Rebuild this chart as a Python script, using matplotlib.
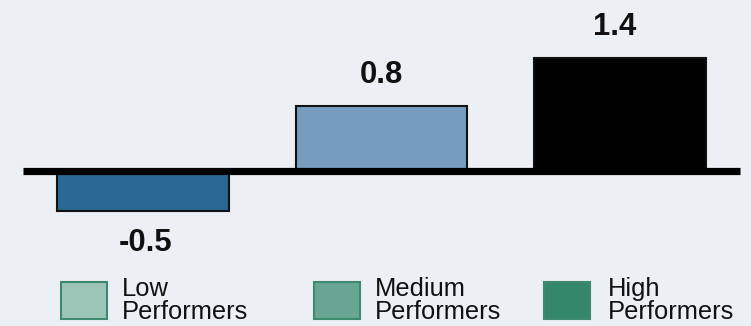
import matplotlib.pyplot as plt
from matplotlib.patches import Rectangle

# Values per group
groups = ['Low Performers', 'Medium Performers', 'High Performers']
values = [-0.5, 0.8, 1.4]
value_labels = ['-0.5', '0.8', '1.4']
bar_colors = ['#296893', '#769cc0', '#000000']

# Legend entries
legend_labels = ['Low\nPerformers', 'Medium\nPerformers', 'High\nPerformers']
legend_colors = ['#9cc5b7', '#68a592', '#35876c']

plt.rcParams['font.family'] = ['Liberation Sans', 'DejaVu Sans']
bg = '#eceff4'

W, H = 751, 326
fig = plt.figure(figsize=(W / 100, H / 100), dpi=100, facecolor=bg)
ax = fig.add_axes([0, 0, 1, 1])
ax.set_facecolor(bg)

# pixel mapping: bar centers 238.5 px apart, zero line at 170.5 px from top
px_x, x0 = 238.5, 143
px_y, y0 = 80.5, 170.5
ax.set_xlim(-x0 / px_x, (W - x0) / px_x)
ax.set_ylim(-(H - y0) / px_y, y0 / px_y)
ax.axis('off')

x = list(range(len(values)))
ax.bar(x, values, width=0.72, color=bar_colors, edgecolor='#111111',
       linewidth=1.5, zorder=2)

# zero line
ax.plot([-0.503, 2.503], [0, 0], color='black', linewidth=5.2,
        solid_capstyle='butt', zorder=3)

# value labels
for xi, v, t in zip(x, values, value_labels):
    dy = 16.5 if v > 0 else -29
    dx = -4 if t == '1.4' else 2 if v < 0 else 0
    ax.annotate(t, (xi, v), xytext=(dx, dy), textcoords='offset points',
                ha='center', va='baseline', fontsize=22.3, fontweight='bold',
                color='#111111')

# legend drawn by hand along the bottom
patch_x = [61, 314, 544]
text_x = [122, 375, 608]
for px, tx, lab, col in zip(patch_x, text_x, legend_labels, legend_colors):
    fig.patches.append(Rectangle((px / W, 1 - 319 / H), 46 / W, 37 / H,
                                 transform=fig.transFigure,
                                 facecolor=col, edgecolor='#3d8a6f',
                                 linewidth=1.5))
    fig.text(tx / W, 1 - 277 / H, lab, ha='left', va='top',
             fontsize=18.4, color='#111111', linespacing=0.95)

fig.savefig('out.png', dpi=100, facecolor=bg)
